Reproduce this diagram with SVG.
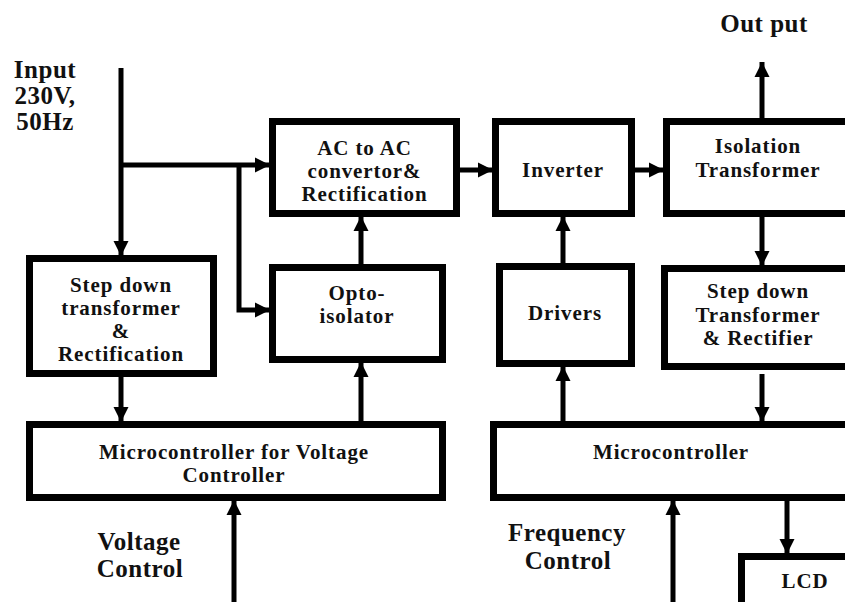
<svg xmlns="http://www.w3.org/2000/svg" width="845" height="602" viewBox="0 0 845 602">
<style>
.box{fill:#fff;stroke:#000;stroke-width:7}
.t{font-family:'Liberation Serif','Times New Roman',serif;font-weight:bold;font-size:21px;letter-spacing:0.9px;fill:#111;text-anchor:middle}
.lbl{font-family:'Liberation Serif','Times New Roman',serif;font-weight:bold;font-size:25px;letter-spacing:0.5px;fill:#111;text-anchor:middle}
.c{fill:none;stroke:#000;stroke-width:5}
</style>
<defs>
<marker id="ah" markerUnits="userSpaceOnUse" markerWidth="16" markerHeight="16" refX="15" refY="7.5" orient="auto" viewBox="0 0 16 15">
<path d="M0,0 L15,7.5 L0,15 z" fill="#000"/>
</marker>
</defs>
<rect width="845" height="602" fill="#fff"/>
<g id="connectors">
<path class="c" d="M121,68 V256" marker-end="url(#ah)"/>
<path class="c" d="M121,165 H270" marker-end="url(#ah)"/>
<path class="c" d="M239,165 V310 H270" marker-end="url(#ah)"/>
<path class="c" d="M361,264 V216" marker-end="url(#ah)"/>
<path class="c" d="M361,421 V362" marker-end="url(#ah)"/>
<path class="c" d="M121,377 V422" marker-end="url(#ah)"/>
<path class="c" d="M234,602 V500" marker-end="url(#ah)"/>
<path class="c" d="M460,170 H493" marker-end="url(#ah)"/>
<path class="c" d="M635,170 H664" marker-end="url(#ah)"/>
<path class="c" d="M762,118 V62" marker-end="url(#ah)"/>
<path class="c" d="M762,217 V266" marker-end="url(#ah)"/>
<path class="c" d="M762,374 V422" marker-end="url(#ah)"/>
<path class="c" d="M563,421 V366" marker-end="url(#ah)"/>
<path class="c" d="M563,263 V216" marker-end="url(#ah)"/>
<path class="c" d="M673,602 V500" marker-end="url(#ah)"/>
<path class="c" d="M787,501 V554" marker-end="url(#ah)"/>
</g>
<g id="input-label">
<text class="lbl" x="45" y="78">Input</text>
<text class="lbl" x="45" y="104">230V,</text>
<text class="lbl" x="45" y="130">50Hz</text>
</g>
<g id="output-label"><text class="lbl" x="764" y="32">Out put</text></g>
<g id="voltage-control-label">
<text class="lbl" x="139" y="550">Voltage</text>
<text class="lbl" x="140" y="577">Control</text>
</g>
<g id="frequency-control-label">
<text class="lbl" x="567" y="541">Frequency</text>
<text class="lbl" x="568" y="569">Control</text>
</g>
<g id="ac-converter">
<rect class="box" x="272.5" y="121.5" width="184" height="92"/>
<text class="t" x="364.5" y="155">AC to AC</text>
<text class="t" x="364.5" y="178">convertor&amp;</text>
<text class="t" x="364.5" y="201">Rectification</text>
</g>
<g id="inverter">
<rect class="box" x="495.5" y="121.5" width="136" height="92"/>
<text class="t" x="563" y="177">Inverter</text>
</g>
<g id="isolation-transformer">
<rect class="box" x="666.5" y="121.5" width="200" height="92"/>
<text class="t" x="758" y="153">Isolation</text>
<text class="t" x="758" y="177">Transformer</text>
</g>
<g id="step-down-left">
<rect class="box" x="29.5" y="258.5" width="184" height="115"/>
<text class="t" x="121" y="292">Step down</text>
<text class="t" x="121" y="315">transformer</text>
<text class="t" x="121" y="338">&amp;</text>
<text class="t" x="121" y="361">Rectification</text>
</g>
<g id="opto-isolator">
<rect class="box" x="272.5" y="267.5" width="170" height="92"/>
<text class="t" x="357" y="300">Opto-</text>
<text class="t" x="357" y="323">isolator</text>
</g>
<g id="drivers">
<rect class="box" x="499.5" y="266.5" width="132" height="97"/>
<text class="t" x="565" y="320">Drivers</text>
</g>
<g id="step-down-right">
<rect class="box" x="664.5" y="268.5" width="200" height="98"/>
<text class="t" x="758" y="298">Step down</text>
<text class="t" x="758" y="322">Transformer</text>
<text class="t" x="758" y="345">&amp; Rectifier</text>
</g>
<g id="mcu-voltage">
<rect class="box" x="29.5" y="424.5" width="413" height="73"/>
<text class="t" x="234" y="459">Microcontroller for Voltage</text>
<text class="t" x="234" y="482">Controller</text>
</g>
<g id="mcu">
<rect class="box" x="493.5" y="424.5" width="372" height="73"/>
<text class="t" x="671" y="459">Microcontroller</text>
</g>
<g id="lcd">
<rect class="box" x="741.5" y="556.5" width="120" height="60"/>
<text class="t" x="805" y="588">LCD</text>
</g>
</svg>
